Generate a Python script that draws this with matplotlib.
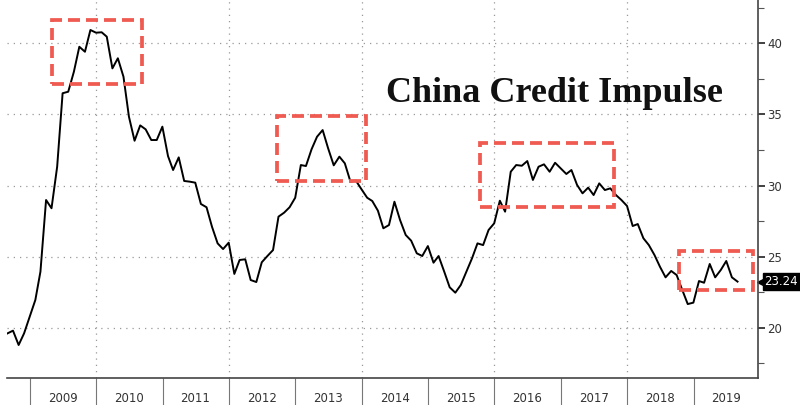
import pandas as pd
from matplotlib import pyplot as plt
from matplotlib import dates as mdates
from matplotlib.patches import Rectangle

# monthly credit impulse, Aug 2008 .. Aug 2019
months = pd.date_range("2008-08-31", periods=133, freq="ME")
impulse = [
    19.60, 19.79, 18.78, 19.60, 20.77, 21.95, 23.94, 28.98, 28.40, 31.32,
    36.49, 36.60, 38.00, 39.76, 39.41, 40.94, 40.75, 40.78, 40.47, 38.24,
    38.95, 37.65, 34.84, 33.15, 34.23, 33.95, 33.20, 33.20, 34.14, 32.07,
    31.09, 31.98, 30.32, 30.27, 30.20, 28.70, 28.47, 27.10, 25.93, 25.53,
    25.98, 23.78, 24.76, 24.81, 23.35, 23.21, 24.60, 25.04, 25.46, 27.81,
    28.09, 28.47, 29.14, 31.44, 31.37, 32.55, 33.43, 33.90, 32.62, 31.42,
    32.03, 31.56, 30.27, 30.34, 29.73, 29.14, 28.91, 28.23, 26.99, 27.22,
    28.86, 27.57, 26.52, 26.12, 25.23, 25.04, 25.74, 24.57, 25.04, 23.94,
    22.84, 22.46, 23.00, 23.94, 24.88, 25.93, 25.81, 26.87, 27.34, 28.93,
    28.16, 30.97, 31.44, 31.39, 31.72, 30.39, 31.32, 31.49, 30.97, 31.60,
    31.21, 30.81, 31.09, 30.04, 29.45, 29.85, 29.33, 30.15, 29.68, 29.80,
    29.33, 28.98, 28.56, 27.15, 27.29, 26.29, 25.81, 25.11, 24.29, 23.54,
    23.99, 23.70, 22.65, 21.66, 21.76, 23.28, 23.16, 24.48, 23.54, 24.06,
    24.69, 23.54, 23.24,
]
last_label = "23.24"

years = list(range(2009, 2020))
grid_years = [2010, 2012, 2014, 2016, 2018]
y_major = [20, 25, 30, 35, 40]
y_minor = [17.5, 22.5, 27.5, 32.5, 37.5, 42.5]

# highlighted periods: (start, end, low, high)
boxes = [
    ("2009-05-01", "2010-09-12", 37.15, 41.64),
    ("2012-09-23", "2014-01-27", 30.32, 34.89),
    ("2015-10-15", "2017-10-22", 28.49, 32.99),
    ("2018-10-13", "2019-11-22", 22.65, 25.41),
]

fig = plt.figure(figsize=(8, 4.05), dpi=100)
ax = fig.add_axes([7 / 800, 1 - 377.7 / 405, 750.7 / 800, 377.7 / 405])

ax.plot(months, impulse, color="black", lw=1.4, zorder=3)

ax.set_xlim(pd.Timestamp("2008-08-28"), pd.Timestamp("2019-12-20"))
ax.set_ylim(16.48, 43.05)

for y in y_major:
    ax.axhline(y, color="#999999", lw=0.9, ls=(0, (1, 4)), zorder=1)
for yr in grid_years:
    ax.axvline(pd.Timestamp(f"{yr}-01-01"), color="#999999", lw=0.9, ls=(0, (1, 4)), zorder=1)

for start, end, low, high in boxes:
    x0 = mdates.date2num(pd.Timestamp(start))
    x1 = mdates.date2num(pd.Timestamp(end))
    ax.add_patch(Rectangle((x0, low), x1 - x0, high - low, fill=False,
                           edgecolor="#ef5a51", lw=2.7, ls=(0, (3.2, 1.6)), zorder=4))

# y axis on the right
ax.yaxis.tick_right()
ax.set_yticks(y_major)
ax.set_yticks(y_minor, minor=True)
ax.tick_params(axis="y", which="major", length=5, width=1.3, color="#333333",
               labelsize=8.5, labelcolor="#333333", pad=2)
ax.tick_params(axis="y", which="minor", length=4, width=0.8, color="#555555")

# x axis: separators at year start, labels mid-year
ax.set_xticks([pd.Timestamp(f"{y}-01-01") for y in years])
ax.set_xticklabels([])
ax.set_xticks([pd.Timestamp(f"{y}-07-01") for y in years], minor=True)
ax.set_xticklabels([str(y) for y in years], minor=True)
ax.tick_params(axis="x", which="major", length=20, width=0.8, color="#777777")
ax.tick_params(axis="x", which="minor", length=0, labelsize=8.5,
               labelcolor="#333333", pad=10)

for side in ["top", "left"]:
    ax.spines[side].set_visible(False)
ax.spines["right"].set_color("#444444")
ax.spines["bottom"].set_color("#444444")
ax.spines["right"].set_linewidth(1.2)
ax.spines["bottom"].set_linewidth(1.2)

# last value tag
ax.plot([1.004], [impulse[-1]], marker="<", ms=6, color="black",
        transform=ax.get_yaxis_transform(), clip_on=False)
ax.text(1.009, impulse[-1], last_label, transform=ax.get_yaxis_transform(),
        ha="left", va="center", color="white", fontsize=8.5,
        bbox=dict(boxstyle="square,pad=0.15", fc="black", ec="black"))

fig.text(386 / 800, 1 - 101.7 / 405, "China Credit Impulse", family="Liberation Serif",
         weight="bold", fontsize=26, va="baseline", ha="left", color="#111111")

fig.savefig("out.png", dpi=100)
